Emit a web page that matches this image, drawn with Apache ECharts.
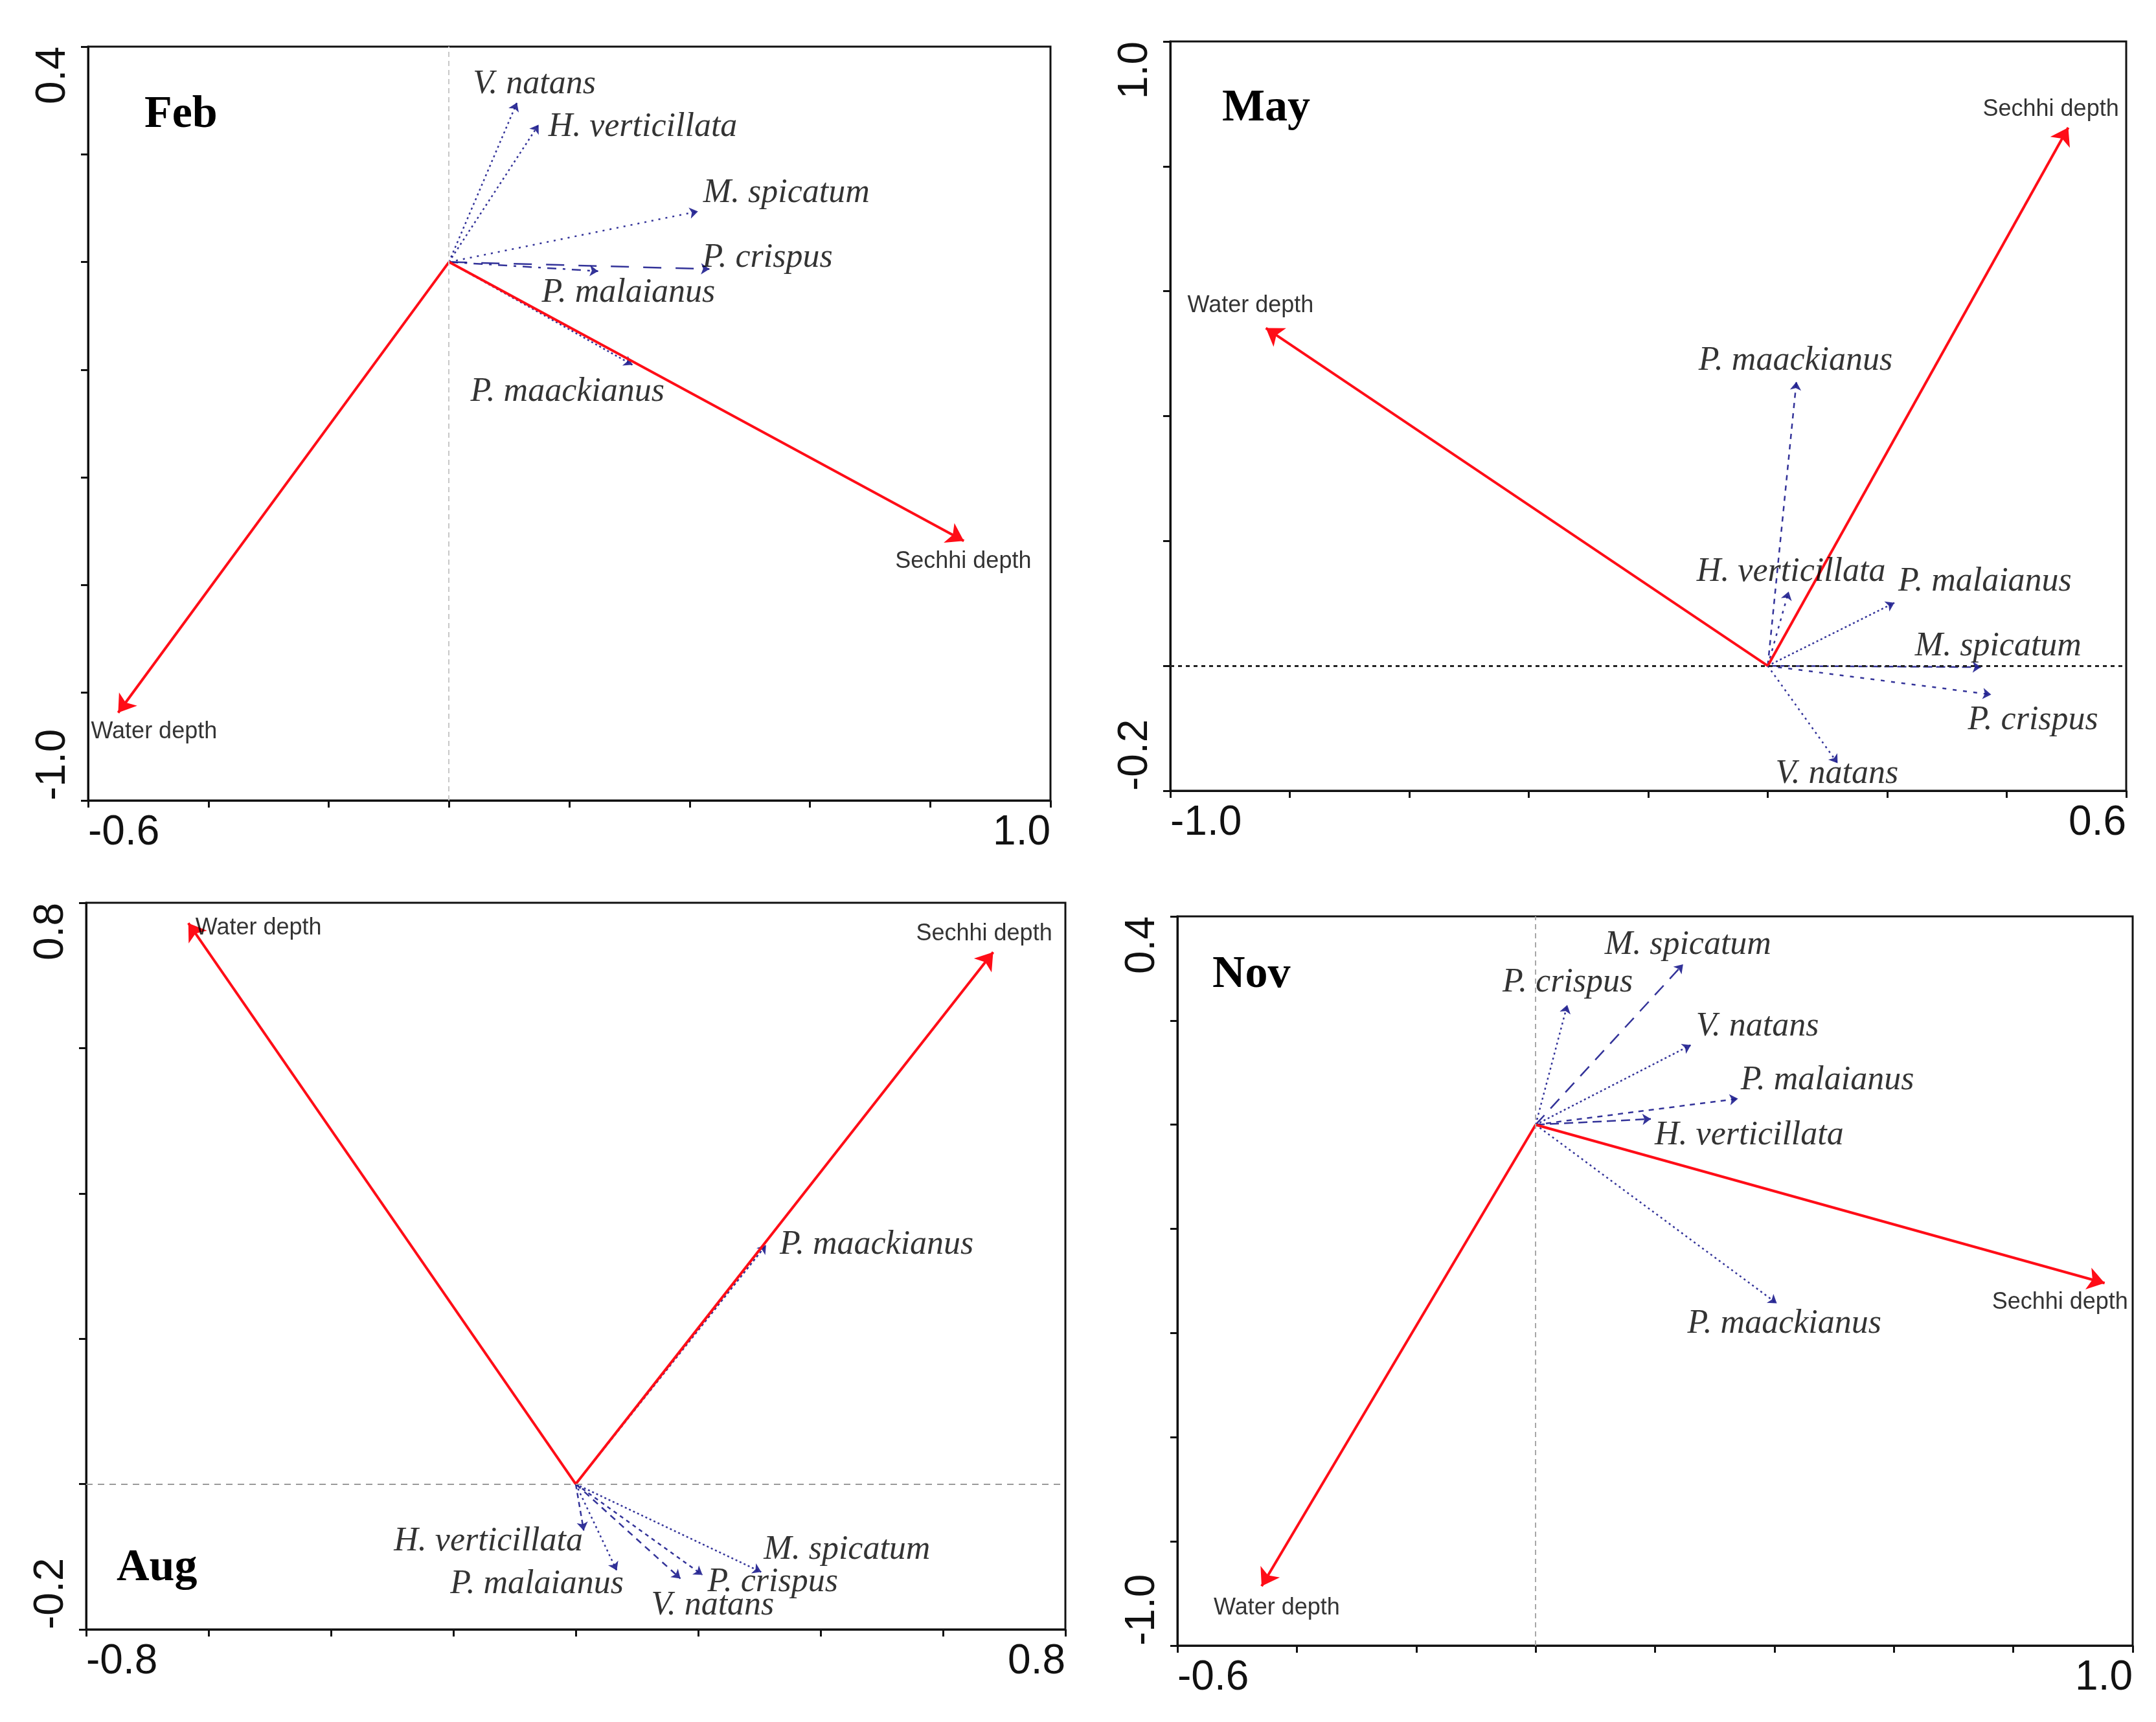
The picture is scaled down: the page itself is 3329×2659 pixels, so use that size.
<!DOCTYPE html>
<html>
<head>
<meta charset="utf-8">
<script src="https://cdn.jsdelivr.net/npm/echarts@6/dist/echarts.min.js"></script>
<style>
html,body{margin:0;padding:0;background:#fff;}
#chart{width:3329px;height:2659px;}
</style>
</head>
<body>
<div id="chart"></div>
<script>
// ---------- DATA ----------
const envNames = ['Water depth', 'Sechhi depth'];

const febSpecies = ['V. natans', 'H. verticillata', 'M. spicatum', 'P. crispus', 'P. malaianus', 'P. maackianus'];
const febSpeciesX = [0.113, 0.149, 0.414, 0.433, 0.248, 0.305];
const febSpeciesY = [0.296, 0.255, 0.094, -0.013, -0.017, -0.191];
const febEnvX = [-0.550, 0.856];
const febEnvY = [-0.837, -0.518];
const febXTicks = [-0.6, 1.0];
const febYTicks = [-1.0, 0.4];

const maySpecies = ['P. maackianus', 'H. verticillata', 'P. malaianus', 'M. spicatum', 'P. crispus', 'V. natans'];
const maySpeciesX = [0.048, 0.035, 0.212, 0.357, 0.374, 0.117];
const maySpeciesY = [0.455, 0.119, 0.101, -0.002, -0.046, -0.156];
const mayEnvX = [-0.840, 0.503];
const mayEnvY = [0.541, 0.862];
const mayXTicks = [-1.0, 0.6];
const mayYTicks = [-0.2, 1.0];

const augSpecies = ['P. maackianus', 'H. verticillata', 'P. malaianus', 'V. natans', 'P. crispus', 'M. spicatum'];
const augSpeciesX = [0.311, 0.013, 0.067, 0.171, 0.207, 0.303];
const augSpeciesY = [0.329, -0.064, -0.119, -0.130, -0.125, -0.121];
const augEnvX = [-0.633, 0.682];
const augEnvY = [0.772, 0.732];
const augXTicks = [-0.8, 0.8];
const augYTicks = [-0.2, 0.8];

const novSpecies = ['M. spicatum', 'P. crispus', 'V. natans', 'P. malaianus', 'H. verticillata', 'P. maackianus'];
const novSpeciesX = [0.247, 0.053, 0.260, 0.339, 0.193, 0.404];
const novSpeciesY = [0.308, 0.230, 0.153, 0.050, 0.011, -0.343];
const novEnvX = [-0.459, 0.953];
const novEnvY = [-0.886, -0.304];
const novXTicks = [-0.6, 1.0];
const novYTicks = [-1.0, 0.4];

// ---------- LAYOUT / STYLE ----------
const panels = [
  {
    title: 'Feb', species: febSpecies, sx: febSpeciesX, sy: febSpeciesY, ex: febEnvX, ey: febEnvY,
    xt: febXTicks, yt: febYTicks,
    grid: {left: 136, top: 72, width: 1486, height: 1164}, titlePos: [218, 138],
    ref: {axis: 'x', color: '#c8c8c8', type: [8, 6], width: 2},
    offsets: {'V. natans': [-68, -28], 'H. verticillata': [15, 4], 'M. spicatum': [8, -28], 'P. crispus': [-11, -17],
      'P. malaianus': [-87, 34], 'P. maackianus': [-250, 42], 'Water depth': [-42, 30], 'Sechhi depth': [-106, 32]},
    dashes: {'V. natans': [3, 5], 'H. verticillata': [3, 5], 'M. spicatum': [3, 8], 'P. crispus': [28, 22],
      'P. malaianus': [14, 10, 4, 10], 'P. maackianus': [3, 4]}
  },
  {
    title: 'May', species: maySpecies, sx: maySpeciesX, sy: maySpeciesY, ex: mayEnvX, ey: mayEnvY,
    xt: mayXTicks, yt: mayYTicks,
    grid: {left: 1807, top: 64, width: 1476, height: 1157}, titlePos: [1882, 128],
    ref: {axis: 'y', color: '#222', type: [6, 6], width: 3},
    offsets: {'Water depth': [-121, -34], 'Sechhi depth': [-132, -28], 'P. maackianus': [-151, -32], 'H. verticillata': [-142, -30],
      'P. malaianus': [6, -32], 'M. spicatum': [-102, -32], 'P. crispus': [-36, 40], 'V. natans': [-96, 17]},
    dashes: {'P. maackianus': [8, 8], 'H. verticillata': [4, 8], 'P. malaianus': [3, 4], 'M. spicatum': [14, 6],
      'P. crispus': [6, 10], 'V. natans': [3, 6]}
  },
  {
    title: 'Aug', species: augSpecies, sx: augSpeciesX, sy: augSpeciesY, ex: augEnvX, ey: augEnvY,
    xt: augXTicks, yt: augYTicks,
    grid: {left: 133, top: 1394, width: 1512, height: 1122}, titlePos: [175, 2382],
    ref: {axis: 'y', color: '#9a9a9a', type: [10, 8], width: 2},
    offsets: {'Water depth': [11, 8], 'Sechhi depth': [-119, -28], 'P. maackianus': [21, 0], 'H. verticillata': [-293, 17],
      'P. malaianus': [-257, 21], 'V. natans': [-45, 42], 'P. crispus': [8, 11], 'M. spicatum': [4, -34]},
    dashes: {'P. maackianus': [4, 4], 'H. verticillata': [8, 6], 'P. malaianus': [3, 5], 'V. natans': [10, 8],
      'P. crispus': [6, 6], 'M. spicatum': [3, 4]}
  },
  {
    title: 'Nov', species: novSpecies, sx: novSpeciesX, sy: novSpeciesY, ex: novEnvX, ey: novEnvY,
    xt: novXTicks, yt: novYTicks,
    grid: {left: 1818, top: 1415, width: 1475, height: 1126}, titlePos: [1867, 1466],
    ref: {axis: 'x', color: '#a8a8a8', type: [8, 6], width: 2},
    offsets: {'Water depth': [-74, 34], 'Sechhi depth': [-174, 30], 'M. spicatum': [-121, -30], 'P. crispus': [-100, -34],
      'V. natans': [8, -28], 'P. malaianus': [4, -28], 'H. verticillata': [6, 25], 'P. maackianus': [-138, 32]},
    dashes: {'M. spicatum': [20, 14], 'P. crispus': [3, 5], 'V. natans': [3, 4], 'P. malaianus': [8, 8],
      'H. verticillata': [14, 8], 'P. maackianus': [3, 5]}
  }
];

const SANS = '"Liberation Sans", Arial, sans-serif';
const SERIF = '"Liberation Serif", "Times New Roman", serif';
const RED = '#ff0d17';
const BLUE = '#1d1d8e';

const grids = [], xAxes = [], yAxes = [], series = [], titles = [];

panels.forEach((p, i) => {
  grids.push(Object.assign({show: true, borderColor: '#111', borderWidth: 3, backgroundColor: 'transparent'}, p.grid));
  const tickLine = {lineStyle: {color: '#111', width: 3}};
  xAxes.push({
    type: 'value', gridIndex: i, min: p.xt[0], max: p.xt[1], interval: 0.2,
    splitLine: {show: false},
    axisLine: {show: true, onZero: false, lineStyle: {color: '#111', width: 3}},
    axisTick: Object.assign({show: true, length: 11, inside: false}, tickLine),
    axisLabel: {
      show: true, customValues: p.xt, formatter: v => v.toFixed(1),
      fontFamily: SANS, fontSize: 64, color: '#111', margin: 18,
      alignMinLabel: 'left', alignMaxLabel: 'right'
    }
  });
  yAxes.push({
    type: 'value', gridIndex: i, min: p.yt[0], max: p.yt[1], interval: 0.2,
    splitLine: {show: false},
    axisLine: {show: true, onZero: false, lineStyle: {color: '#111', width: 3}},
    axisTick: Object.assign({show: true, length: 11, inside: false}, tickLine),
    axisLabel: {
      show: true, customValues: p.yt, formatter: v => v.toFixed(1), rotate: 90,
      fontFamily: SANS, fontSize: 64, color: '#111', margin: 22,
      verticalAlign: 'bottom',
      alignMinLabel: 'left', alignMaxLabel: 'right'
    }
  });
  titles.push({
    text: p.title, left: p.titlePos[0], top: p.titlePos[1],
    textStyle: {fontFamily: SERIF, fontWeight: 'bold', fontSize: 70, color: '#000'}
  });

  // species arrows
  series.push({
    type: 'lines', coordinateSystem: 'cartesian2d', xAxisIndex: i, yAxisIndex: i,
    symbol: ['none', 'arrow'], symbolSize: 13, z: 3, silent: true,
    data: p.species.map((s, k) => ({
      coords: [[0, 0], [p.sx[k], p.sy[k]]],
      lineStyle: {color: BLUE, width: 2.5, type: p.dashes[s], opacity: 0.9}
    }))
  });
  // environmental arrows
  series.push({
    type: 'lines', coordinateSystem: 'cartesian2d', xAxisIndex: i, yAxisIndex: i,
    symbol: ['none', 'arrow'], symbolSize: 26, z: 4, silent: true,
    lineStyle: {color: RED, width: 4, opacity: 1},
    data: envNames.map((n, k) => ({coords: [[0, 0], [p.ex[k], p.ey[k]]]}))
  });
  // species labels + reference line
  const refLine = p.ref.axis === 'x' ? {xAxis: 0} : {yAxis: 0};
  series.push({
    type: 'scatter', xAxisIndex: i, yAxisIndex: i, symbol: 'circle', symbolSize: 2, z: 5, silent: true,
    itemStyle: {color: 'rgba(0,0,0,0)'},
    data: p.species.map((s, k) => ({
      value: [p.sx[k], p.sy[k]], name: s,
      label: {offset: p.offsets[s]}
    })),
    label: {
      show: true, position: 'inside', align: 'left', verticalAlign: 'middle',
      formatter: d => d.name, fontFamily: SERIF, fontStyle: 'italic', fontSize: 52, color: '#000'
    },
    markLine: {
      silent: true, symbol: 'none', label: {show: false}, animation: false,
      lineStyle: {color: p.ref.color, type: p.ref.type, width: p.ref.width},
      data: [refLine]
    }
  });
  // env labels
  series.push({
    type: 'scatter', xAxisIndex: i, yAxisIndex: i, symbol: 'circle', symbolSize: 2, z: 5, silent: true,
    itemStyle: {color: 'rgba(0,0,0,0)'},
    data: envNames.map((n, k) => ({
      value: [p.ex[k], p.ey[k]], name: n,
      label: {offset: p.offsets[n]}
    })),
    label: {
      show: true, position: 'inside', align: 'left', verticalAlign: 'middle',
      formatter: d => d.name, fontFamily: SANS, fontSize: 36, color: '#000'
    }
  });
});

const chart = echarts.init(document.getElementById('chart'), null, {renderer: 'canvas'});
chart.setOption({
  backgroundColor: '#fff',
  animation: false,
  title: titles,
  grid: grids,
  xAxis: xAxes,
  yAxis: yAxes,
  series: series
});
</script>
</body>
</html>
